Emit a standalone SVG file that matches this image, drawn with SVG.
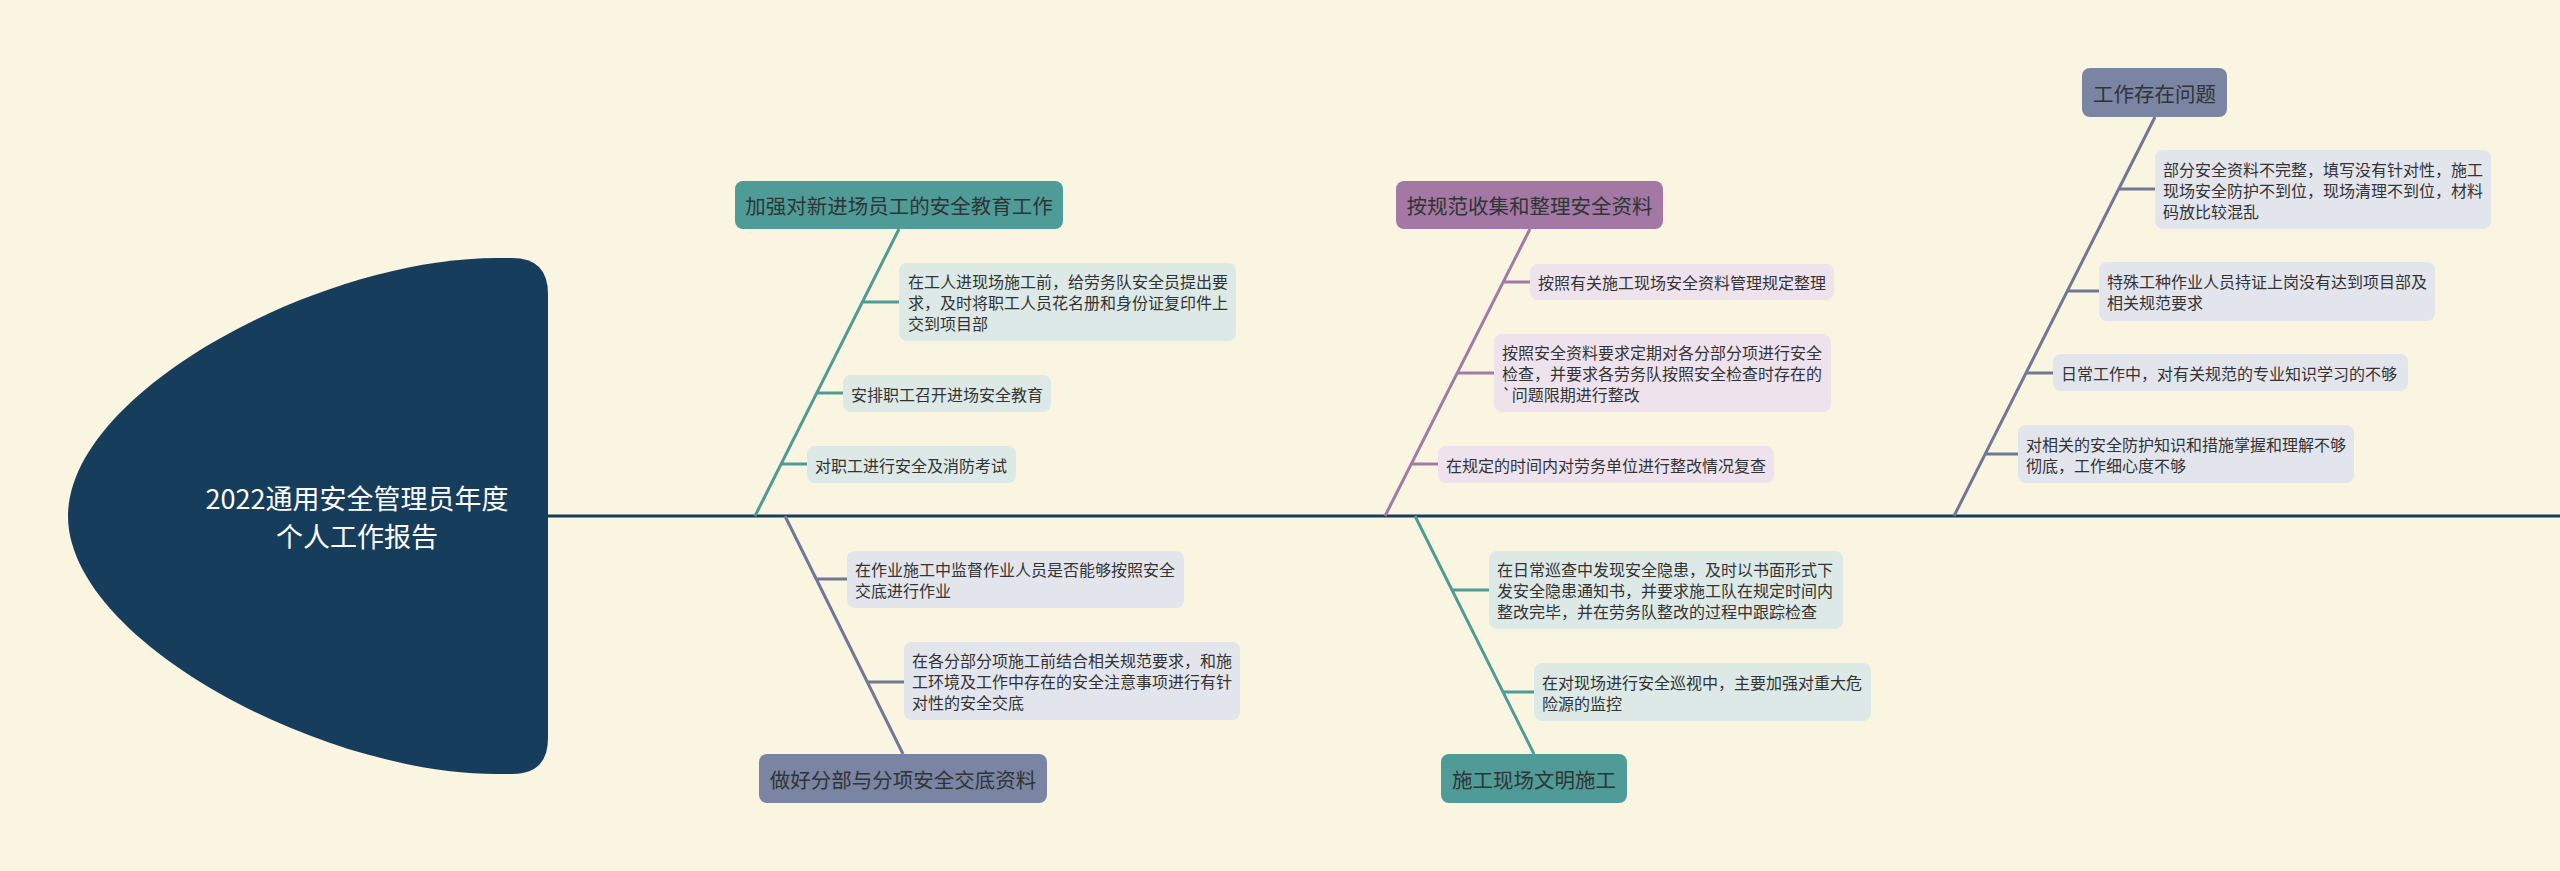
<svg xmlns="http://www.w3.org/2000/svg" width="2560" height="871" viewBox="0 0 2560 871">
<style>
text{font-family:"Noto Sans CJK SC","Noto Sans",sans-serif;dominant-baseline:central}
.t{font-size:16px;fill:#333}
.h{font-size:20.5px;fill:#2f3535;text-anchor:middle}
.title{font-size:27px;fill:#fff;text-anchor:middle}
.nt{fill:#4e9b97}
.ns{fill:#7a84a3}
.np{fill:#a478a4}
.ct{fill:#dce9e6}
.cs{fill:#e3e5ec}
.cp{fill:#eee3ec}
.lt{stroke:#4e9b97;stroke-width:3;fill:none}
.ls{stroke:#6f7997;stroke-width:3;fill:none}
.lp{stroke:#a27ba4;stroke-width:3;fill:none}
</style>
<rect width="2560" height="871" fill="#faf5e0"/>
<g id="connectors">
<line x1="548" y1="516" x2="2560" y2="516" stroke="#173d5c" stroke-width="3"/>
<path class="lt" d="M899 229 L755 516 M862 302 H899 M817 393 H843 M781 464 H807"/>
<path class="ls" d="M785 516 L903 754 M816 579 H847 M868 682 H904"/>
<path class="lp" d="M1530 229 L1385 516 M1504 282 H1530 M1458 373 H1494 M1411 464 H1438"/>
<path class="lt" d="M1415 516 L1534 754 M1452 590 H1489 M1503 692 H1534"/>
<path class="ls" d="M2155 117 L1954 516 M2119 189 H2155 M2067 291 H2099 M2026 373 H2053 M1985 454 H2018"/>
</g>
<g id="root">
<path d="M512 258 Q548 258 548 294 L548 738 Q548 774 512 774 L497 774 C320 774 68 640 68 516 C68 392 320 258 497 258 Z" fill="#173d5c"/>
<text class="title" x="357" y="497">2022通用安全管理员年度</text>
<text class="title" x="357" y="535">个人工作报告</text>
</g>
<g id="n1">
<rect class="nt" x="735" y="181" width="328" height="48" rx="8"/>
<text class="h" x="899" y="205">加强对新进场员工的安全教育工作</text>
</g>
<g id="n1c1">
<rect class="ct" x="899" y="263" width="337" height="78" rx="8"/>
<text class="t" x="908" y="281">在工人进现场施工前，给劳务队安全员提出要</text>
<text class="t" x="908" y="302">求，及时将职工人员花名册和身份证复印件上</text>
<text class="t" x="908" y="323">交到项目部</text>
</g>
<g id="n1c2">
<rect class="ct" x="843" y="375" width="208" height="37" rx="8"/>
<text class="t" x="851" y="393.5">安排职工召开进场安全教育</text>
</g>
<g id="n1c3">
<rect class="ct" x="807" y="446" width="209" height="37" rx="8"/>
<text class="t" x="815" y="464.5">对职工进行安全及消防考试</text>
</g>
<g id="n2">
<rect class="ns" x="759" y="754" width="288" height="49" rx="8"/>
<text class="h" x="903" y="778.5">做好分部与分项安全交底资料</text>
</g>
<g id="n2c1">
<rect class="cs" x="847" y="551" width="337" height="57" rx="8"/>
<text class="t" x="855" y="569">在作业施工中监督作业人员是否能够按照安全</text>
<text class="t" x="855" y="590">交底进行作业</text>
</g>
<g id="n2c2">
<rect class="cs" x="904" y="642" width="336" height="78" rx="8"/>
<text class="t" x="912" y="660">在各分部分项施工前结合相关规范要求，和施</text>
<text class="t" x="912" y="681">工环境及工作中存在的安全注意事项进行有针</text>
<text class="t" x="912" y="702">对性的安全交底</text>
</g>
<g id="n3">
<rect class="np" x="1396" y="181" width="267" height="48" rx="8"/>
<text class="h" x="1529.5" y="205">按规范收集和整理安全资料</text>
</g>
<g id="n3c1">
<rect class="cp" x="1530" y="264" width="304" height="36" rx="8"/>
<text class="t" x="1538" y="282">按照有关施工现场安全资料管理规定整理</text>
</g>
<g id="n3c2">
<rect class="cp" x="1494" y="334" width="337" height="78" rx="8"/>
<text class="t" x="1502" y="352">按照安全资料要求定期对各分部分项进行安全</text>
<text class="t" x="1502" y="373">检查，并要求各劳务队按照安全检查时存在的</text>
<text class="t" x="1502" y="394">`问题限期进行整改</text>
</g>
<g id="n3c3">
<rect class="cp" x="1438" y="446" width="336" height="37" rx="8"/>
<text class="t" x="1446" y="464.5">在规定的时间内对劳务单位进行整改情况复查</text>
</g>
<g id="n4">
<rect class="nt" x="1441" y="754" width="186" height="49" rx="8"/>
<text class="h" x="1534" y="778.5">施工现场文明施工</text>
</g>
<g id="n4c1">
<rect class="ct" x="1489" y="551" width="354" height="78" rx="8"/>
<text class="t" x="1497" y="569">在日常巡查中发现安全隐患，及时以书面形式下</text>
<text class="t" x="1497" y="590">发安全隐患通知书，并要求施工队在规定时间内</text>
<text class="t" x="1497" y="611">整改完毕，并在劳务队整改的过程中跟踪检查</text>
</g>
<g id="n4c2">
<rect class="ct" x="1534" y="663" width="337" height="58" rx="8"/>
<text class="t" x="1542" y="681.5">在对现场进行安全巡视中，主要加强对重大危</text>
<text class="t" x="1542" y="702.5">险源的监控</text>
</g>
<g id="n5">
<rect class="ns" x="2082" y="68" width="145" height="49" rx="8"/>
<text class="h" x="2154.5" y="92.5">工作存在问题</text>
</g>
<g id="n5c1">
<rect class="cs" x="2155" y="150" width="336" height="79" rx="8"/>
<text class="t" x="2163" y="168.5">部分安全资料不完整，填写没有针对性，施工</text>
<text class="t" x="2163" y="189.5">现场安全防护不到位，现场清理不到位，材料</text>
<text class="t" x="2163" y="210.5">码放比较混乱</text>
</g>
<g id="n5c2">
<rect class="cs" x="2099" y="262" width="336" height="59" rx="8"/>
<text class="t" x="2107" y="281">特殊工种作业人员持证上岗没有达到项目部及</text>
<text class="t" x="2107" y="302">相关规范要求</text>
</g>
<g id="n5c3">
<rect class="cs" x="2053" y="354" width="355" height="37" rx="8"/>
<text class="t" x="2061" y="372.5">日常工作中，对有关规范的专业知识学习的不够</text>
</g>
<g id="n5c4">
<rect class="cs" x="2018" y="425" width="336" height="58" rx="8"/>
<text class="t" x="2026" y="443.5">对相关的安全防护知识和措施掌握和理解不够</text>
<text class="t" x="2026" y="464.5">彻底，工作细心度不够</text>
</g>
</svg>
